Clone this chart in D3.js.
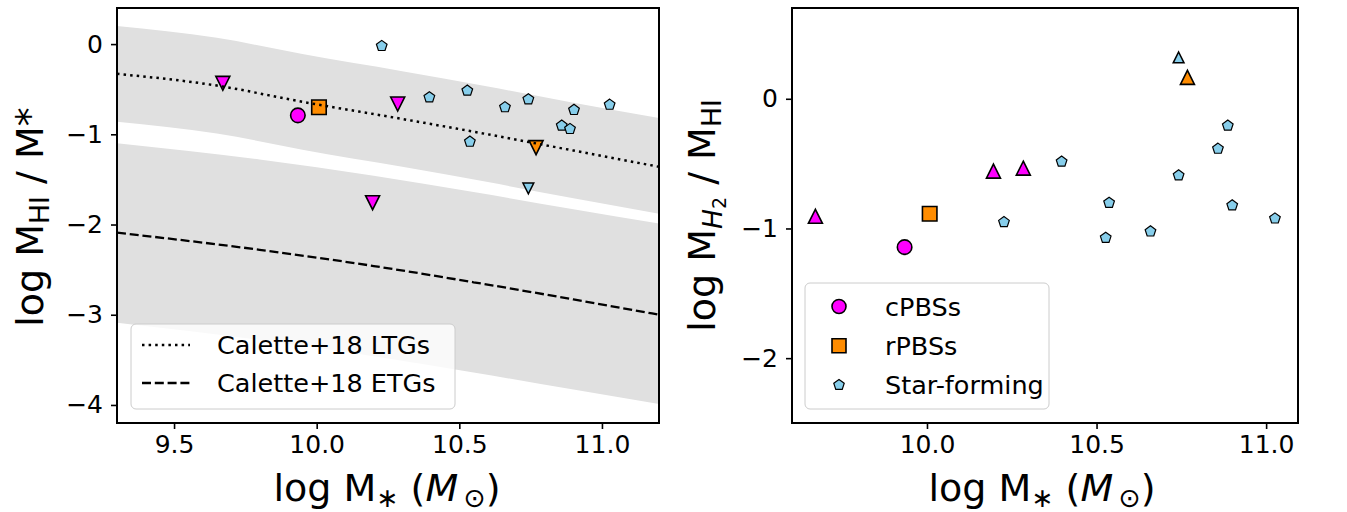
<!DOCTYPE html>
<html><head><meta charset="utf-8">
<script src="https://cdn.jsdelivr.net/npm/d3@7"></script>
<style>body{margin:0;background:#fff} text{font-family:"DejaVu Sans",sans-serif;fill:#000}</style>
</head><body><svg id="c" width="1347" height="512"></svg>
<script>
// ---------- data ----------
const xTicksLeft = [9.5, 10.0, 10.5, 11.0];
const yTicksLeft = [0, -1, -2, -3, -4];
const xTicksRight = [10.0, 10.5, 11.0];
const yTicksRight = [0, -1, -2];

// Calette+18 relations
const ltgX = [9.3, 9.65, 9.95, 10.3, 10.6, 10.9, 11.2];
const ltgY = [-0.33, -0.46, -0.64, -0.83, -1.0, -1.18, -1.36];
const ltgUpper = [0.2, 0.07, -0.11, -0.30, -0.47, -0.65, -0.82];
const ltgLower = [-0.86, -0.99, -1.17, -1.36, -1.53, -1.71, -1.88];
const etgX = [9.3, 9.8, 10.2, 10.55, 10.9, 11.2];
const etgY = [-2.09, -2.28, -2.46, -2.64, -2.83, -3.0];
const etgUpper = [-1.10, -1.28, -1.46, -1.64, -1.83, -1.99];
const etgLower = [-3.09, -3.28, -3.46, -3.64, -3.83, -3.99];

// left panel: log MHI / M*
const cpbsMass = [9.934];
const cpbsHI = [-0.79];
const rpbsMass = [10.008];
const rpbsHI = [-0.70];
const cpbsLimMass = [9.671, 10.196, 10.284];
const cpbsLimHI = [-0.435, -1.758, -0.664];
const rpbsLimMass = [10.769];
const rpbsLimHI = [-1.148];
const sfMassL = [10.228, 10.395, 10.528, 10.537, 10.66, 10.742, 10.859, 10.888, 10.902, 11.027];
const sfHI = [-0.021, -0.59, -0.516, -1.082, -0.70, -0.612, -0.904, -0.941, -0.73, -0.672];
const sfLimMass = [10.742];
const sfLimHI = [-1.60];

// right panel: log MH2 / MHI
const cpbsH2 = [-1.144];
const rpbsH2 = [-0.887];
const cpbsLimH2 = [-0.906, -0.558, -0.535];
const rpbsLimMassR = [10.768];
const rpbsLimH2 = [0.165];
const sfLimH2 = [0.319];
const sfMassR = [10.227, 10.397, 10.527, 10.537, 10.659, 10.742, 10.858, 10.887, 10.900, 11.026];
const sfH2 = [-0.951, -0.485, -1.072, -0.802, -1.023, -0.591, -0.385, -0.207, -0.822, -0.923];

const legendLeft = ["Calette+18 LTGs", "Calette+18 ETGs"];
const legendRight = ["cPBSs", "rPBSs", "Star-forming"];

// ---------- styles ----------
const MAG = "#ff00ff", ORA = "#ff8c00", SKY = "#87ceeb", BAND = "#e0e0e0";
const TICKFONT = 25, LEGFONT = 25.5, LABFONT = 38;

const svg = d3.select("#c");
svg.append("rect").attr("width", 1347).attr("height", 512).attr("fill", "#fff");

// marker paths
function shapePath(type, s) {
  const h = s / 2;
  if (type === "down") return `M${-h},${-h}L${h},${-h}L0,${h}Z`;
  if (type === "up") return `M0,${-h}L${h},${h}L${-h},${h}Z`;
  if (type === "square") return `M${-h},${-h}H${h}V${h}H${-h}Z`;
  if (type === "pent") {
    const pts = d3.range(5).map(k => {
      const a = (-90 + 72 * k) * Math.PI / 180;
      return [h * Math.cos(a), h * Math.sin(a)];
    });
    return "M" + pts.map(p => p.join(",")).join("L") + "Z";
  }
  if (type === "circle") return d3.symbol(d3.symbolCircle, Math.PI * h * h)();
}

function drawMarkers(g, xs, ys, xS, yS, type, size, fill, sw) {
  g.append("g").selectAll("path").data(xs.map((d, i) => [d, ys[i]])).join("path")
    .attr("d", shapePath(type, size))
    .attr("transform", d => `translate(${xS(d[0])},${yS(d[1])})`)
    .attr("fill", fill).attr("stroke", "#000").attr("stroke-width", sw)
    .attr("stroke-linejoin", "miter");
}

function makePanel(id, x0, x1, y0, y1, xdom, ydom, xticks, yticks) {
  const x = d3.scaleLinear(xdom, [x0, x1]);
  const y = d3.scaleLinear(ydom, [y1, y0]);
  const g = svg.append("g");
  g.append("clipPath").attr("id", id).append("rect")
    .attr("x", x0).attr("y", y0).attr("width", x1 - x0).attr("height", y1 - y0);
  const plot = g.append("g").attr("clip-path", `url(#${id})`);
  const ax = d3.axisBottom(x).tickValues(xticks).tickFormat(d3.format(".1f")).tickSize(6).tickPadding(6).tickSizeOuter(0);
  const ay = d3.axisLeft(y).tickValues(yticks).tickFormat(d3.format("d")).tickSize(6).tickPadding(8).tickSizeOuter(0);
  const gx = g.append("g").attr("transform", `translate(0,${y1})`).call(ax);
  const gy = g.append("g").attr("transform", `translate(${x0},0)`).call(ay);
  [gx, gy].forEach(a => {
    a.select(".domain").remove();
    a.selectAll("line").attr("stroke", "#000").attr("stroke-width", 1.6);
    a.selectAll("text").attr("font-size", TICKFONT).attr("font-family", "DejaVu Sans").attr("fill", "#000");
  });
  return { x, y, g, plot, x0, x1, y0, y1 };
}

// ---------- left panel ----------
const L = makePanel("clipL", 117, 659, 8, 423, [9.3, 11.2], [-4.2, 0.4], xTicksLeft, yTicksLeft);
const area = (X, lo, hi) => d3.area().curve(d3.curveMonotoneX)
  .x((d, i) => L.x(X[i])).y0((d, i) => L.y(lo[i])).y1((d, i) => L.y(hi[i]))(X);
L.plot.append("path").attr("d", area(ltgX, ltgLower, ltgUpper)).attr("fill", BAND);
L.plot.append("path").attr("d", area(etgX, etgLower, etgUpper)).attr("fill", BAND);

drawMarkers(L.plot, sfMassL, sfHI, L.x, L.y, "pent", 11.2, SKY, 1.2);
drawMarkers(L.plot, sfLimMass, sfLimHI, L.x, L.y, "down", 10.8, SKY, 1.5);
drawMarkers(L.plot, cpbsLimMass, cpbsLimHI, L.x, L.y, "down", 14, MAG, 1.6);
drawMarkers(L.plot, rpbsLimMass, rpbsLimHI, L.x, L.y, "down", 14, ORA, 1.6);
drawMarkers(L.plot, cpbsMass, cpbsHI, L.x, L.y, "circle", 14.5, MAG, 1.6);
drawMarkers(L.plot, rpbsMass, rpbsHI, L.x, L.y, "square", 14.5, ORA, 1.6);

const lineGen = (X, Y) => d3.line().curve(d3.curveMonotoneX).x((d, i) => L.x(X[i])).y((d, i) => L.y(Y[i]))(X);
L.plot.append("path").attr("d", lineGen(ltgX, ltgY)).attr("fill", "none").attr("stroke", "#000")
  .attr("stroke-width", 2.5).attr("stroke-dasharray", "2.5,4.1");
L.plot.append("path").attr("d", lineGen(etgX, etgY)).attr("fill", "none").attr("stroke", "#000")
  .attr("stroke-width", 2.3).attr("stroke-dasharray", "9,3.8");

// legend left
const lgL = L.g.append("g");
lgL.append("rect").attr("x", 131).attr("y", 324).attr("width", 324).attr("height", 85).attr("rx", 5)
  .attr("fill", "#fff").attr("fill-opacity", 0.8).attr("stroke", "#cccccc").attr("stroke-width", 1);
legendLeft.forEach((t, i) => {
  const yy = 345 + i * 38;
  lgL.append("line").attr("x1", 142).attr("x2", 190).attr("y1", yy).attr("y2", yy)
    .attr("stroke", "#000").attr("stroke-width", i ? 2.3 : 2.5)
    .attr("stroke-dasharray", i ? "9,3.8" : "2.5,4.1");
  lgL.append("text").attr("x", 217).attr("y", yy + 9).attr("font-size", LEGFONT).text(t);
});

// ---------- right panel ----------
const R = makePanel("clipR", 792, 1298, 8, 423, [9.602, 11.094], [-2.5, 0.7], xTicksRight, yTicksRight);
drawMarkers(R.plot, sfMassR, sfH2, R.x, R.y, "pent", 11.2, SKY, 1.2);
drawMarkers(R.plot, sfLimMass, sfLimH2, R.x, R.y, "up", 10.8, SKY, 1.5);
drawMarkers(R.plot, cpbsLimMass, cpbsLimH2, R.x, R.y, "up", 14, MAG, 1.6);
drawMarkers(R.plot, rpbsLimMassR, rpbsLimH2, R.x, R.y, "up", 14, ORA, 1.6);
drawMarkers(R.plot, cpbsMass, cpbsH2, R.x, R.y, "circle", 14.5, MAG, 1.6);
drawMarkers(R.plot, rpbsMass, rpbsH2, R.x, R.y, "square", 14.5, ORA, 1.6);

const lgR = R.g.append("g");
lgR.append("rect").attr("x", 805).attr("y", 283).attr("width", 244).attr("height", 126).attr("rx", 5)
  .attr("fill", "#fff").attr("fill-opacity", 0.8).attr("stroke", "#cccccc").attr("stroke-width", 1);
const legShapes = [["circle", MAG, 14], ["square", ORA, 14], ["pent", SKY, 11]];
legendRight.forEach((t, i) => {
  const yy = 306.5 + i * 39.2;
  lgR.append("path").attr("d", shapePath(legShapes[i][0], legShapes[i][2]))
    .attr("transform", `translate(839,${yy})`).attr("fill", legShapes[i][1])
    .attr("stroke", "#000").attr("stroke-width", i === 2 ? 1.2 : 1.6);
  lgR.append("text").attr("x", 885).attr("y", yy + 9).attr("font-size", LEGFONT).text(t);
});

// frames
[L, R].forEach(P => {
  P.g.append("rect").attr("x", P.x0).attr("y", P.y0).attr("width", P.x1 - P.x0).attr("height", P.y1 - P.y0)
    .attr("fill", "none").attr("stroke", "#000").attr("stroke-width", 2);
});

// ---------- axis labels ----------
function xLabel(cx) {
  const t = svg.append("text").attr("x", cx).attr("y", 501).attr("text-anchor", "middle").attr("font-size", LABFONT);
  t.append("tspan").text("log M");
  t.append("tspan").attr("font-size", LABFONT * 0.7).attr("dy", 6).text("\u2217");
  t.append("tspan").attr("dy", -6).text(" (");
  t.append("tspan").attr("font-style", "italic").text("M");
  t.append("tspan").attr("font-size", LABFONT * 0.7).attr("dy", 6).text("\u2009\u2299");
  t.append("tspan").attr("dy", -6).text(")");
}
xLabel(387);
xLabel(1042);

const yl = svg.append("text").attr("transform", "translate(43,217) rotate(-90)")
  .attr("text-anchor", "middle").attr("font-size", LABFONT);
yl.append("tspan").text("log M");
yl.append("tspan").attr("font-size", LABFONT * 0.7).attr("dy", 6).text("HI");
yl.append("tspan").attr("dy", -6).text(" / M*");

const yr = svg.append("text").attr("transform", "translate(715,215.5) rotate(-90)")
  .attr("text-anchor", "middle").attr("font-size", LABFONT);
yr.append("tspan").text("log M");
yr.append("tspan").attr("font-size", LABFONT * 0.7).attr("font-style", "italic").attr("dy", 7).text("H");
yr.append("tspan").attr("font-size", LABFONT * 0.5).attr("dy", 4).text("2");
yr.append("tspan").attr("dy", -11).text(" / M");
yr.append("tspan").attr("font-size", LABFONT * 0.7).attr("dy", 6).text("HI");
</script></body></html>
